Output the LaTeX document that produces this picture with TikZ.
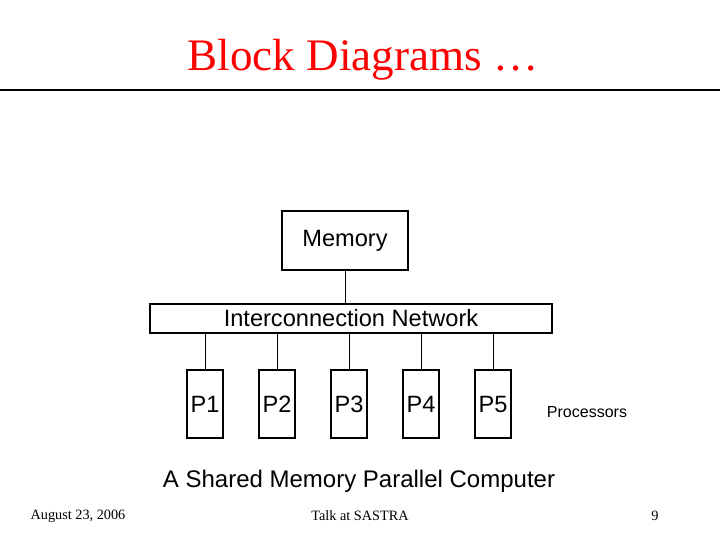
\documentclass[tikz,border=0pt]{standalone}
\usepackage{fontspec}
\setmainfont{Liberation Serif}
\newfontfamily\arialf{Liberation Sans}
\begin{document}
\begin{tikzpicture}[x=0.75pt,y=-0.75pt,
  box/.style={draw,line width=0.8pt,inner sep=0pt,font=\arialf\fontsize{17.7}{20}\selectfont},
  wire/.style={line width=0.6pt}]
\useasboundingbox (0,0) rectangle (720,540);
\node[text=red,font=\fontsize{33.8}{38}\selectfont] (title) at (363,60) {Block Diagrams …};
\draw[line width=1.5pt] (0,90) -- (720,90);
\node[box,minimum width=126*0.75pt,minimum height=59*0.75pt] (mem) at (345,240.5) {Memory};
\node[box,minimum width=402*0.75pt,minimum height=29*0.75pt] (net) at (351,318.5) {Interconnection Network};
\draw[wire] (mem.south) -- (mem.south |- net.north);
\foreach \i/\x in {1/205,2/277,3/349,4/421,5/493}{
  \node[box,minimum width=36*0.75pt,minimum height=68*0.75pt] (p\i) at (\x,404) {P\i};
  \draw[wire] (p\i.north |- net.south) -- (p\i.north);
}
\node[font=\arialf\fontsize{12}{14}\selectfont] (proc) at (587,412) {Processors};
\node[font=\arialf\fontsize{18}{21}\selectfont] (cap) at (359,481) {A Shared Memory Parallel Computer};
\node[font=\fontsize{10.7}{12}\selectfont] (date) at (78,516) {August 23, 2006};
\node[font=\fontsize{10.7}{12}\selectfont] (talk) at (360,516) {Talk at SASTRA};
\node[font=\fontsize{10.7}{12}\selectfont] (pg) at (655,516) {9};
\end{tikzpicture}
\end{document}
